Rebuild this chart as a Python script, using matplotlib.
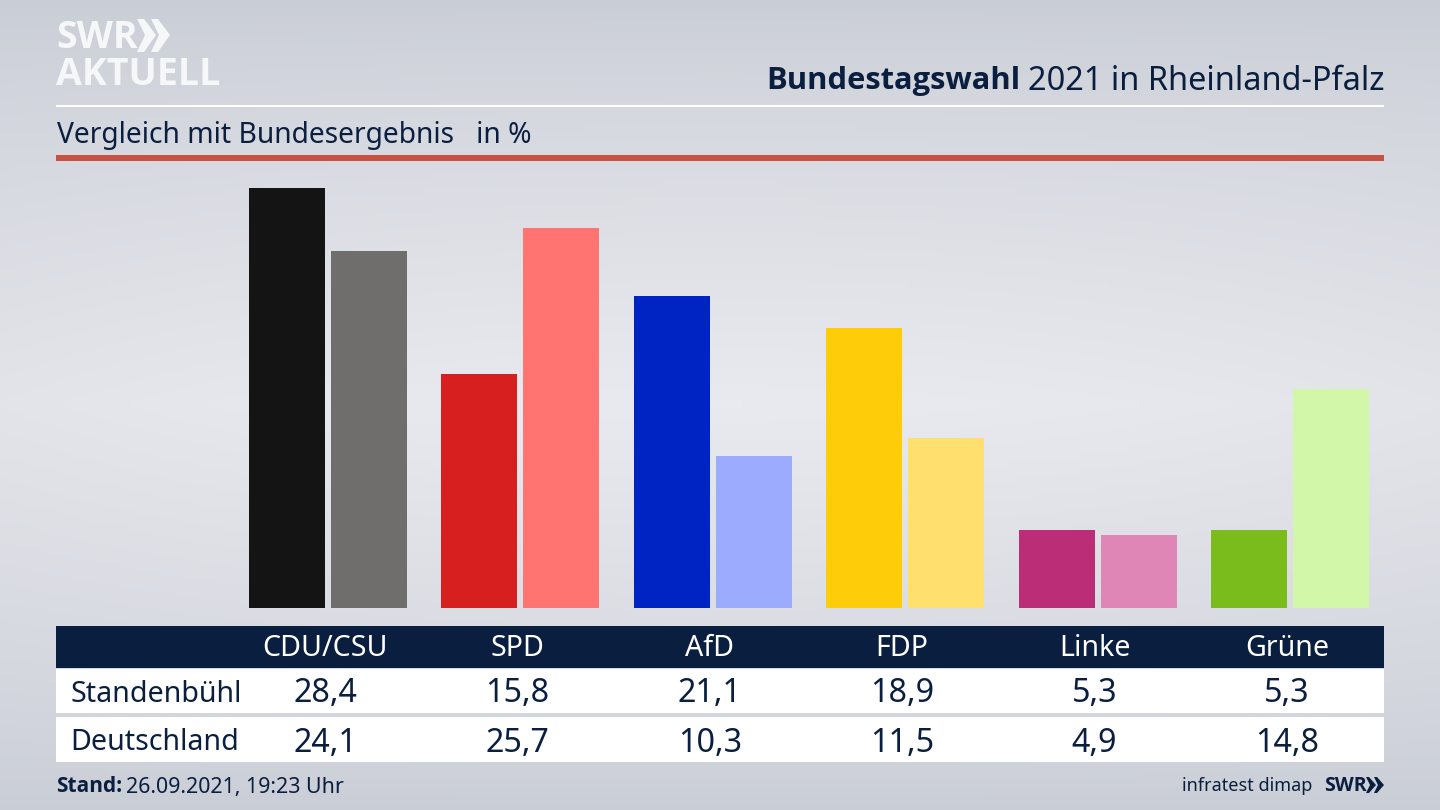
import numpy as np
import matplotlib
matplotlib.use("Agg")
import matplotlib.pyplot as plt
from matplotlib.colors import LinearSegmentedColormap

# Data
parties = ['CDU/CSU', 'SPD', 'AfD', 'FDP', 'Linke', 'Grüne']
standenbuehl = [28.4, 15.8, 21.1, 18.9, 5.3, 5.3]
deutschland = [24.1, 25.7, 10.3, 11.5, 4.9, 14.8]
colors_local = ['#141414', '#d71f1f', '#0023c4', '#ffcc0a', '#bb2d76', '#79bc1c']
colors_national = ['#6f6e6c', '#ff7370', '#9dabff', '#ffe06e', '#df86b6', '#d2f7a8']

NAVY = '#0a1f3f'
W, H = 1440, 810
BOLD = ['Open Sans', 'DejaVu Sans']

plt.rcParams['font.family'] = ['Noto Sans', 'DejaVu Sans']

fig = plt.figure(figsize=(14.4, 8.1), dpi=100)

# overlay in pixel coordinates for the background, table and header
bg = fig.add_axes([0, 0, 1, 1])
bg.set_xlim(0, W)
bg.set_ylim(H, 0)
bg.axis('off')

yy = np.linspace(0, 1, 200)[:, None]
xx = np.linspace(-1, 1, 200)[None, :]
cmap = LinearSegmentedColormap.from_list('bg', [(0, '#c9cdd5'), (1, '#e9eaef')])
glow = np.clip(1 - np.abs(yy - 0.5) / 0.5, 0, 1) ** 0.75 * (1 - 0.2 * xx ** 2)
bg.imshow(glow, extent=[0, W, H, 0], aspect='auto', cmap=cmap, vmin=0, vmax=1, zorder=0)

# header lines
bg.fill_between([56, 1384], 104.5, 107, color='white', lw=0)
bg.fill_between([56, 1384], 155, 160.5, color='#c8513f', lw=0)

# title
bg.text(1384, 81, '2021 in Rheinland-Pfalz', ha='right', va='center', fontsize=23.4, color=NAVY)
bg.text(1020, 81, 'Bundestagswahl', ha='right', va='center', fontsize=22.2, fontweight='bold',
        family=BOLD, color=NAVY)
bg.text(57, 135, 'Vergleich mit Bundesergebnis   in %', ha='left', va='center', fontsize=20.3, color=NAVY)

# logo
LOGO = '#f6f7f9'
bg.text(56, 38, 'SWR', ha='left', va='center', fontsize=27, fontweight='bold', family=BOLD, color=LOGO)
bg.text(56, 75, 'AKTUELL', ha='left', va='center', fontsize=27, fontweight='bold', family=BOLD, color=LOGO)
for x0 in (137, 151):
    bg.fill([x0, x0 + 7, x0 + 19, x0 + 7, x0, x0 + 8], [19, 19, 35, 52, 52, 35], color=LOGO, lw=0)

# bars, in data units
ax = fig.add_axes([56 / W, 1 - 608 / H, (1384 - 56) / W, (608 - 160) / H])
ax.patch.set_alpha(0)
ax.set_xlim(-1.414, 5.489)
ax.set_ylim(0, 448 / 14.8)
ax.axis('off')
x = np.arange(len(parties))
ax.bar(x - 0.213, standenbuehl, width=0.395, color=colors_local)
ax.bar(x + 0.213, deutschland, width=0.395, color=colors_national)

# table
bg.fill_between([56, 1384], 626, 668, color=NAVY, lw=0, zorder=3)
bg.fill_between([56, 1384], 669, 713, color='white', lw=0, zorder=3)
bg.fill_between([56, 1384], 717, 762, color='white', lw=0, zorder=3)

centers = 325 + 192.4 * x
for cx, name, a, b in zip(centers, parties, standenbuehl, deutschland):
    bg.text(cx, 648.5, name, ha='center', va='center', fontsize=20.6, color='white', zorder=4)
    bg.text(cx, 694, f'{a:.1f}'.replace('.', ','), ha='center', va='center', fontsize=23.2, color=NAVY, zorder=4)
    bg.text(cx, 743, f'{b:.1f}'.replace('.', ','), ha='center', va='center', fontsize=23.2, color=NAVY, zorder=4)
bg.text(70, 694, 'Standenbühl', ha='left', va='center', fontsize=20.6, color=NAVY, zorder=4)
bg.text(70, 743, 'Deutschland', ha='left', va='center', fontsize=20.6, color=NAVY, zorder=4)

# footer
bg.text(56, 787, 'Stand:', ha='left', va='center', fontsize=15, fontweight='bold', family=BOLD, color=NAVY)
bg.text(126, 787, '26.09.2021, 19:23 Uhr', ha='left', va='center', fontsize=15.4, color=NAVY)
bg.text(1312, 786, 'infratest dimap', ha='right', va='center', fontsize=13, color=NAVY)
bg.text(1324, 786, 'SWR', ha='left', va='center', fontsize=14, fontweight='bold', family=BOLD, color=NAVY)
for x0 in (1366, 1374):
    bg.fill([x0, x0 + 3, x0 + 10, x0 + 3, x0, x0 + 4], [777, 777, 785, 793, 793, 785], color=NAVY, lw=0)

bg.set_xlim(0, W)
bg.set_ylim(H, 0)
fig.savefig('out.png', dpi=100)
